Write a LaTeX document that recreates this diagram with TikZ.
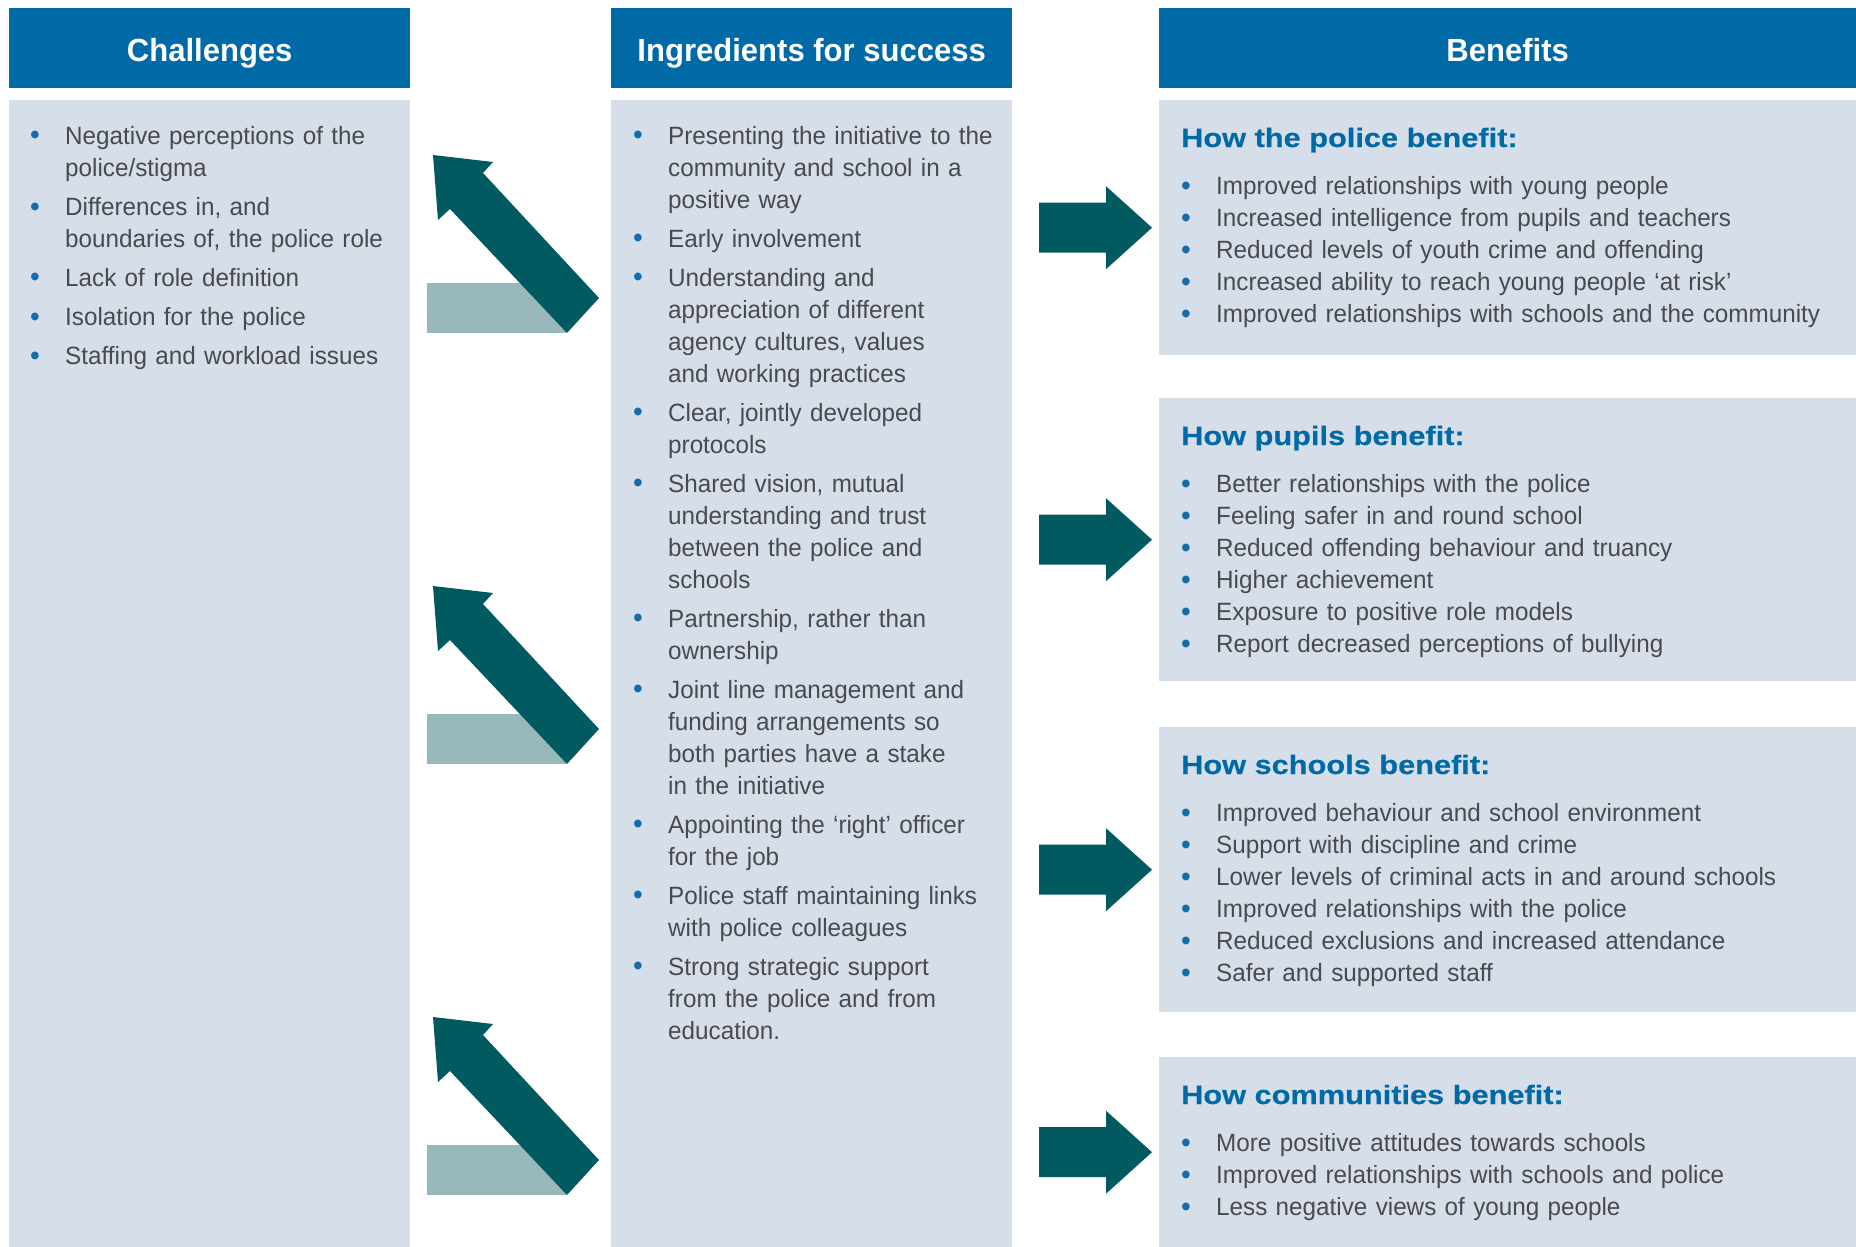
\documentclass[tikz,border=0pt]{standalone}
\usepackage{fontspec}
\setmainfont{Liberation Sans}[FakeStretch=0.97]
\newfontfamily\subheadfont[FakeStretch=1.16,FakeBold=0.4]{Liberation Sans}
\usetikzlibrary{calc}
\definecolor{headblue}{RGB}{0,106,166}
\definecolor{panelgrey}{RGB}{214,222,234}
\definecolor{textgrey}{RGB}{74,74,78}
\definecolor{dotblue}{RGB}{20,108,170}
\definecolor{darkteal}{RGB}{0,90,96}
\definecolor{paleteal}{RGB}{152,184,188}
\newlength\bulletsep
\setlength\bulletsep{30pt}
\newcommand\bitem[1]{\hangindent=\bulletsep\hangafter=1\noindent\strut\hbox to\bulletsep{\hskip-5pt\raisebox{-0.8pt}{\scalebox{1.15}{\textcolor{dotblue}{\textbullet}}}\hss}#1\strut\par}
\newcommand\listgap{\vskip7pt}
\def\colw{401pt}
\def\benew{697pt}
\def\arrowshift{431}

\begin{document}
\begin{tikzpicture}[x=1pt,y=-1pt,
    headbar/.style={
      fill=headblue, text=white, anchor=north west, inner sep=0pt,
      minimum height=80pt, text height=26pt, text depth=0pt,
      font=\fontsize{32}{38}\selectfont\bfseries
    },
    panel/.style={
      fill=panelgrey, anchor=north west, inner sep=0pt
    },
    itemlist/.style={
      anchor=north west, inner sep=0pt, align=left, text=textgrey,
      font=\fontsize{25}{32}\selectfont
    },
    subhead/.style={
      anchor=base west, inner sep=0pt, text=headblue,
      font=\subheadfont\fontsize{26.5}{32}\selectfont\bfseries
    },
    bigarrow/.style={fill=darkteal},
    plinth/.style={fill=paleteal}
  ]
    \fill[white] (0,0) rectangle (1856,1247);
    \useasboundingbox (0,0) rectangle (1856,1247);

    % headers
    \node[headbar, minimum width=\colw] (chalhead) at (9,8)    {Challenges};
    \node[headbar, minimum width=\colw] (ingrhead) at (611,8)  {Ingredients for success};
    \node[headbar, minimum width=\benew] (benehead) at (1159,8) {Benefits};

    % panels
    \node[panel, minimum width=\colw, minimum height=1147pt] (chalbody) at (9,100)   {};
    \node[panel, minimum width=\colw, minimum height=1147pt] (ingrbody) at (611,100) {};
    \node[panel, minimum width=\benew, minimum height=255pt] (police)      at (1159,100)  {};
    \node[panel, minimum width=\benew, minimum height=283pt] (pupils)      at (1159,398)  {};
    \node[panel, minimum width=\benew, minimum height=285pt] (schools)     at (1159,727)  {};
    \node[panel, minimum width=\benew, minimum height=190pt] (communities) at (1159,1057) {};

    % challenges
    \node[itemlist, text width=370pt] (challist) at ($(chalbody.north west)+(26,21.6)$) {
      \bitem{Negative perceptions of the\newline police/stigma}\listgap
      \bitem{Differences in, and\newline boundaries of, the police role}\listgap
      \bitem{Lack of role definition}\listgap
      \bitem{Isolation for the police}\listgap
      \bitem{Staffing and workload issues}
    };

    % ingredients
    \node[itemlist, text width=370pt] (ingrlist) at ($(ingrbody.north west)+(27,21.6)$) {
      \bitem{Presenting the initiative to the\newline community and school in a\newline positive way}\listgap
      \bitem{Early involvement}\listgap
      \bitem{Understanding and\newline appreciation of different\newline agency cultures, values\newline and working practices}\listgap
      \bitem{Clear, jointly developed\newline protocols}\listgap
      \bitem{Shared vision, mutual\newline understanding and trust\newline between the police and\newline schools}\listgap
      \bitem{Partnership, rather than\newline ownership}\listgap
      \bitem{Joint line management and\newline funding arrangements so\newline both parties have a stake\newline in the initiative}\listgap
      \bitem{Appointing the ‘right’ officer\newline for the job}\listgap
      \bitem{Police staff maintaining links\newline with police colleagues}\listgap
      \bitem{Strong strategic support\newline from the police and from\newline education.}
    };

    % benefits
    \node[subhead] (policehead) at ($(police.north west)+(22,47)$) {How the police benefit:};
    \node[itemlist, text width=700pt] (policelist) at ($(police.north west)+(27,72)$) {
      \bitem{Improved relationships with young people}
      \bitem{Increased intelligence from pupils and teachers}
      \bitem{Reduced levels of youth crime and offending}
      \bitem{Increased ability to reach young people ‘at risk’}
      \bitem{Improved relationships with schools and the community}
    };

    \node[subhead] (pupilshead) at ($(pupils.north west)+(22,47)$) {How pupils benefit:};
    \node[itemlist, text width=700pt] (pupilslist) at ($(pupils.north west)+(27,72)$) {
      \bitem{Better relationships with the police}
      \bitem{Feeling safer in and round school}
      \bitem{Reduced offending behaviour and truancy}
      \bitem{Higher achievement}
      \bitem{Exposure to positive role models}
      \bitem{Report decreased perceptions of bullying}
    };

    \node[subhead] (schoolshead) at ($(schools.north west)+(22,47)$) {How schools benefit:};
    \node[itemlist, text width=700pt] (schoolslist) at ($(schools.north west)+(27,72)$) {
      \bitem{Improved behaviour and school environment}
      \bitem{Support with discipline and crime}
      \bitem{Lower levels of criminal acts in and around schools}
      \bitem{Improved relationships with the police}
      \bitem{Reduced exclusions and increased attendance}
      \bitem{Safer and supported staff}
    };

    \node[subhead] (commhead) at ($(communities.north west)+(22,47)$) {How communities benefit:};
    \node[itemlist, text width=700pt] (commlist) at ($(communities.north west)+(27,72)$) {
      \bitem{More positive attitudes towards schools}
      \bitem{Improved relationships with schools and police}
      \bitem{Less negative views of young people}
    };

    % arrows
    \foreach \k in {0,1,2}{
      \begin{scope}[shift={(0,\k*\arrowshift)}]
        \fill[plinth] (427,283) rectangle (566,333);
        \fill[bigarrow] (433,155) -- (493,162) -- (483,173) -- (599,298)
          -- (567,333) -- (450,209) -- (438,220) -- cycle;
      \end{scope}
    }
    \foreach \bname in {police,pupils,schools,communities}{
      \fill[bigarrow] ($(\bname.west)+(-7,0)$) -- ++(-46,-41.5) -- ++(0,16.5)
        -- ++(-67,0) -- ++(0,50) -- ++(67,0) -- ++(0,16.5) -- cycle;
    }
  \end{tikzpicture}
\end{document}
